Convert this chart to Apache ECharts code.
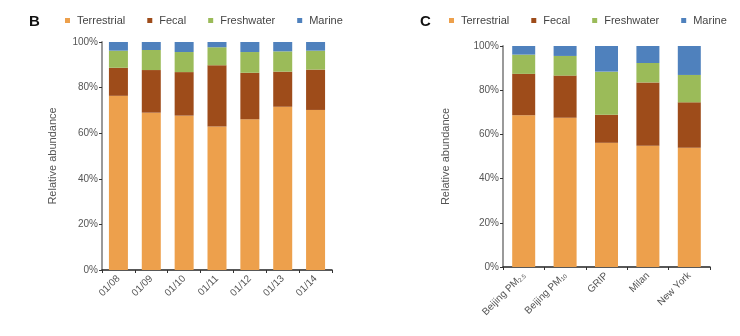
<!DOCTYPE html>
<html>
<head>
<meta charset="utf-8">
<script src="https://cdn.jsdelivr.net/npm/echarts@6/dist/echarts.min.js"></script>
<style>
  html, body { margin: 0; padding: 0; background: #fff; }
  #chart { width: 740px; height: 336px; }
</style>
</head>
<body>
<div id="chart"></div>
<script>
// panel B: daily samples
const datesB = ['01/08', '01/09', '01/10', '01/11', '01/12', '01/13', '01/14'];
const terrestrialB = [76.4, 69.0, 67.7, 62.9, 66.1, 71.6, 70.2];
const fecalB = [12.3, 18.7, 19.1, 26.9, 20.4, 15.4, 17.7];
const freshwaterB = [7.5, 8.8, 8.8, 7.9, 9.1, 8.9, 8.3];
const marineB = [3.8, 3.5, 4.4, 2.3, 4.4, 4.1, 3.8];

// panel C: comparison with other sites
const sitesC = ['Beijing PM2.5', 'Beijing PM10', 'GRIP', 'Milan', 'New York'];
const terrestrialC = [68.7, 67.5, 56.2, 54.9, 54.0];
const fecalC = [18.7, 19.1, 12.7, 28.6, 20.5];
const freshwaterC = [8.7, 8.9, 19.5, 8.8, 12.4];
const marineC = [3.9, 4.5, 11.6, 7.7, 13.1];

const yTicks = [0, 20, 40, 60, 80, 100];
const sourceNames = ['Terrestrial', 'Fecal', 'Freshwater', 'Marine'];
const colors = ['#EDA04C', '#9E4C1A', '#9BBB59', '#4F81BD'];

const chart = echarts.init(document.getElementById('chart'));

function yAxisFor(gridIndex, gap) {
  return {
    gridIndex: gridIndex,
    type: 'value',
    min: yTicks[0],
    max: yTicks[yTicks.length - 1],
    interval: 20,
    name: 'Relative abundance',
    nameLocation: 'middle',
    nameGap: gap,
    nameTextStyle: { fontSize: 11, color: '#555', fontFamily: 'Liberation Sans' },
    axisLine: { show: true, lineStyle: { color: '#9a9a9a', width: 2 } },
    axisTick: { show: true, length: 3, lineStyle: { color: '#333' } },
    axisLabel: { formatter: '{value}%', fontSize: 10, color: '#555', margin: 4, fontFamily: 'Liberation Sans' },
    splitLine: { show: false }
  };
}

function xAxisFor(gridIndex, data, rich) {
  return {
    gridIndex: gridIndex,
    type: 'category',
    data: data,
    axisLine: { lineStyle: { color: '#222', width: 1.5 } },
    axisTick: { show: true, length: 3, lineStyle: { color: '#333' } },
    axisLabel: {
      rotate: 45,
      fontSize: 10,
      color: '#555',
      margin: 7,
      interval: 0,
      fontFamily: 'Liberation Sans',
      formatter: function (v) {
        if (rich && v.indexOf('Beijing PM') === 0) {
          return 'Beijing PM{sub|' + v.slice(10) + '}';
        }
        return v;
      },
      rich: {
        sub: { fontSize: 6, color: '#555', verticalAlign: 'bottom', padding: [4, 0, 0, 0] }
      }
    }
  };
}

function stackSeries(gi, stackName, values, width) {
  return values.map((vals, i) => ({
    name: sourceNames[i],
    type: 'bar',
    stack: stackName,
    xAxisIndex: gi,
    yAxisIndex: gi,
    barWidth: width,
    data: vals,
    itemStyle: { color: colors[i] }
  }));
}

function legendAt(left) {
  return {
    left: left,
    top: 10,
    width: 300,
    itemWidth: 5,
    itemHeight: 5,
    itemGap: 22,
    icon: 'rect',
    data: sourceNames,
    textStyle: { fontSize: 11, color: '#444', padding: [0, 0, 0, 2], fontFamily: 'Liberation Sans' }
  };
}

chart.setOption({
  animation: false,
  color: colors,
  title: [
    { text: 'B', left: 24, top: 9, textStyle: { fontSize: 15, fontWeight: 'bold', color: '#111' } },
    { text: 'C', left: 415, top: 9, textStyle: { fontSize: 15, fontWeight: 'bold', color: '#111' } }
  ],
  legend: [legendAt(60), legendAt(444)],
  grid: [
    { left: 102, right: 408, top: 42, bottom: 66 },
    { left: 503, right: 30, top: 46, bottom: 69 }
  ],
  xAxis: [xAxisFor(0, datesB, false), xAxisFor(1, sitesC, true)],
  yAxis: [yAxisFor(0, 44), yAxisFor(1, 52)],
  series: [].concat(
    stackSeries(0, 'b', [terrestrialB, fecalB, freshwaterB, marineB], 19),
    stackSeries(1, 'c', [terrestrialC, fecalC, freshwaterC, marineC], 23)
  )
});
</script>
</body>
</html>
